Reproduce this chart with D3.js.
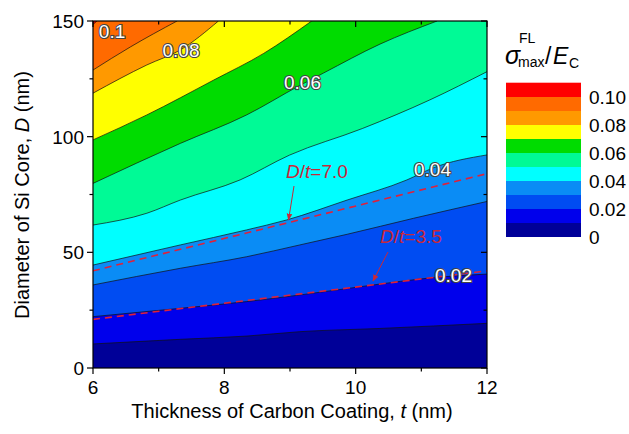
<!DOCTYPE html>
<html>
<head>
<meta charset="utf-8">
<title>Contour</title>
<script src="https://cdn.jsdelivr.net/npm/d3@7"></script>
<style>
  body { margin: 0; background: #fff; }
  text { font-family: "Liberation Sans", Arial, sans-serif; }
</style>
</head>
<body>
<svg width="629" height="434"></svg>
<script>
// contour levels and band colours (band i spans levels[i]..levels[i+1])
const levels = [0, 0.01, 0.02, 0.03, 0.04, 0.05, 0.06, 0.07, 0.08, 0.09, 0.10, 0.11];
const bandColors = ["#000098", "#0000ec", "#004cf2", "#0a8cf5", "#00ffff", "#00fa96",
                    "#00dc00", "#ffff00", "#ff9900", "#ff6a00", "#ff0000"];

// contour lines: [t (nm), D (nm)]
const c001 = [[6,10.4],[7.33,12.4],[8.34,13.8],[9.15,15.7],[10.37,17.1],[12,19.3]];
const c002 = [[6,22.2],[7.33,25.8],[8.34,28.7],[9.16,31.6],[10.27,35.9],[11.09,38.8],[12,40.6]];
const c003 = [[6,35.9],[7.33,43.1],[8.34,48.1],[9.15,53.2],[9.87,57.8],[10.88,64.7],[12,72]];
const c004 = [[6,44.5],[7.33,53.2],[8.34,59.7],[8.95,64],[9.87,72.6],[10.78,81.3],[11.18,86.5],[12,92.1]];
const c005 = [[6,61.8],[6.82,66.9],[7.33,72.6],[8.24,81.3],[8.99,92],[10.1,103.5],[11.13,115.9],[12,128.1]];
const c006 = [[6,79.8],[7.33,97.1],[8.34,109.4],[9.14,122],[9.51,127.5],[10.37,140],[11.24,150]];
const c007 = [[6,98.6],[6.82,109.4],[7.84,124.5],[8.6,136],[9.33,150]];
const c008 = [[6,118.8],[6.82,131],[7.33,137.5],[7.91,150]];
const c009 = [[6,128.8],[6.57,138.8],[7.28,150]];
const c010 = [[6,148.5],[6.06,150]];
const contours = [c001, c002, c003, c004, c005, c006, c007, c008, c009, c010];

// inline contour labels
const contourLabels = [
  {text: "0.1",  t: 6.29,  D: 145.5},
  {text: "0.08", t: 7.34,  D: 137.5},
  {text: "0.06", t: 9.19,  D: 123.4},
  {text: "0.04", t: 11.17, D: 86},
  {text: "0.02", t: 11.49, D: 40}
];

// D/t reference lines
const ratio70 = [[6,42],[12,84]];
const ratio35 = [[6,21],[12,42]];

const xTicks = [6, 7, 8, 9, 10, 11, 12];
const xLabels = [6, 8, 10, 12];
const yTicks = [0, 25, 50, 75, 100, 125, 150];
const yLabels = [0, 50, 100, 150];
const legendLabels = [0, 0.02, 0.04, 0.06, 0.08, 0.10];

const svg = d3.select("svg");
const x = d3.scaleLinear().domain([6, 12]).range([93, 487]);
const y = d3.scaleLinear().domain([0, 150]).range([368, 21]);

svg.append("defs").append("clipPath").attr("id", "plot")
  .append("rect").attr("x", x(6)).attr("y", y(150))
  .attr("width", x(12) - x(6)).attr("height", y(0) - y(150));

const g = svg.append("g").attr("clip-path", "url(#plot)");

// top band fills whole area, then each contour paints the area below it
g.append("rect").attr("x", x(6)).attr("y", y(150))
  .attr("width", x(12) - x(6)).attr("height", y(0) - y(150))
  .attr("fill", bandColors[10]);

const line = d3.line().x(d => x(d[0])).y(d => y(d[1])).curve(d3.curveMonotoneX);

for (let k = contours.length - 1; k >= 0; k--) {
  const c = contours[k];
  const p = line(c) + `L${x(12)},${y(150) - 2}L${x(12) + 2},${y(150) - 2}L${x(12) + 2},${y(0) + 2}L${x(6) - 2},${y(0) + 2}L${x(6) - 2},${y(c[0][1])}Z`;
  g.append("path").attr("d", p).attr("fill", bandColors[k]);
}
contours.forEach(c => {
  g.append("path").attr("d", line(c)).attr("fill", "none")
    .attr("stroke", "#111").attr("stroke-width", 0.7);
});

// D/t dashed lines
[ratio70, ratio35].forEach(r => {
  g.append("path").attr("d", d3.line().x(d => x(d[0])).y(d => y(d[1]))(r))
    .attr("fill", "none").attr("stroke", "#e0203a").attr("stroke-width", 1.6)
    .attr("stroke-dasharray", "7,5");
});

// contour labels
contourLabels.forEach(l => {
  g.append("text").attr("x", x(l.t)).attr("y", y(l.D)).attr("dy", "0.36em")
    .attr("text-anchor", "middle").attr("font-size", 19)
    .attr("fill", "#fff").attr("stroke", "#444").attr("stroke-width", 2.2)
    .attr("paint-order", "stroke").text(l.text);
});

// D/t annotations
const redC = "#c8283a";
svg.append("defs").append("marker").attr("id", "arr")
  .attr("viewBox", "0 0 10 10").attr("refX", 9).attr("refY", 5)
  .attr("markerWidth", 7).attr("markerHeight", 7).attr("orient", "auto")
  .append("path").attr("d", "M0,1L10,5L0,9Z").attr("fill", redC);

function ratioLabel(px, py, val) {
  const t = svg.append("text").attr("x", px).attr("y", py).attr("font-size", 19).attr("fill", redC);
  t.append("tspan").attr("font-style", "italic").text("D");
  t.append("tspan").text("/");
  t.append("tspan").attr("font-style", "italic").text("t");
  t.append("tspan").text("=" + val);
}
ratioLabel(286, 178, "7.0");
ratioLabel(380, 243, "3.5");
svg.append("line").attr("x1", 294).attr("y1", 186).attr("x2", 288.5).attr("y2", 220)
  .attr("stroke", redC).attr("stroke-width", 1).attr("marker-end", "url(#arr)");
svg.append("line").attr("x1", 388).attr("y1", 252).attr("x2", 373).attr("y2", 281)
  .attr("stroke", redC).attr("stroke-width", 1).attr("marker-end", "url(#arr)");

// frame
svg.append("rect").attr("x", x(6)).attr("y", y(150))
  .attr("width", x(12) - x(6)).attr("height", y(0) - y(150))
  .attr("fill", "none").attr("stroke", "#000").attr("stroke-width", 1.2);

// ticks: outward on bottom/left, inward on top/right
const ax = svg.append("g").attr("stroke", "#000").attr("stroke-width", 1.2);
xTicks.forEach(v => {
  const len = xLabels.includes(v) ? 6 : 3.5;
  ax.append("line").attr("x1", x(v)).attr("x2", x(v)).attr("y1", y(0)).attr("y2", y(0) + len);
  ax.append("line").attr("x1", x(v)).attr("x2", x(v)).attr("y1", y(150)).attr("y2", y(150) + len);
});
yTicks.forEach(v => {
  const len = yLabels.includes(v) ? 6 : 3.5;
  ax.append("line").attr("y1", y(v)).attr("y2", y(v)).attr("x1", x(6)).attr("x2", x(6) - len);
  ax.append("line").attr("y1", y(v)).attr("y2", y(v)).attr("x1", x(12)).attr("x2", x(12) - len);
});
xLabels.forEach(v => {
  svg.append("text").attr("x", x(v)).attr("y", y(0) + 26).attr("text-anchor", "middle")
    .attr("font-size", 19).text(v);
});
yLabels.forEach(v => {
  svg.append("text").attr("x", x(6) - 9).attr("y", y(v)).attr("dy", "0.36em")
    .attr("text-anchor", "end").attr("font-size", 19).text(v);
});

// axis titles
const xt = svg.append("text").attr("x", 292).attr("y", 418).attr("text-anchor", "middle").attr("font-size", 20);
xt.append("tspan").text("Thickness of Carbon Coating, ");
xt.append("tspan").attr("font-style", "italic").text("t");
xt.append("tspan").text(" (nm)");
const yt = svg.append("text").attr("transform", "translate(29,195) rotate(-90)")
  .attr("text-anchor", "middle").attr("font-size", 20);
yt.append("tspan").text("Diameter of Si Core, ");
yt.append("tspan").attr("font-style", "italic").text("D");
yt.append("tspan").text(" (nm)");

// legend
const ly = d3.scaleLinear().domain([0, 0.11]).range([236.7, 82.7]);
const leg = svg.append("g");
bandColors.forEach((col, i) => {
  leg.append("rect").attr("x", 506).attr("width", 75)
    .attr("y", ly(levels[i + 1])).attr("height", ly(levels[i]) - ly(levels[i + 1]) + 0.3)
    .attr("fill", col);
});
legendLabels.forEach(v => {
  leg.append("text").attr("x", 589).attr("y", ly(v)).attr("dy", "0.36em")
    .attr("font-size", 19).text(v === 0 ? "0" : v.toFixed(2));
});
leg.append("text").attr("x", 505).attr("y", 64).attr("font-size", 25).attr("font-style", "italic").text("σ");
leg.append("text").attr("x", 519).attr("y", 43).attr("font-size", 14).text("FL");
leg.append("text").attr("x", 518).attr("y", 67).attr("font-size", 14).text("max");
leg.append("text").attr("x", 545).attr("y", 64).attr("font-size", 23).text("/");
leg.append("text").attr("x", 553).attr("y", 64).attr("font-size", 23).attr("font-style", "italic").text("E");
leg.append("text").attr("x", 569).attr("y", 68).attr("font-size", 14).text("C");
</script>
</body>
</html>
